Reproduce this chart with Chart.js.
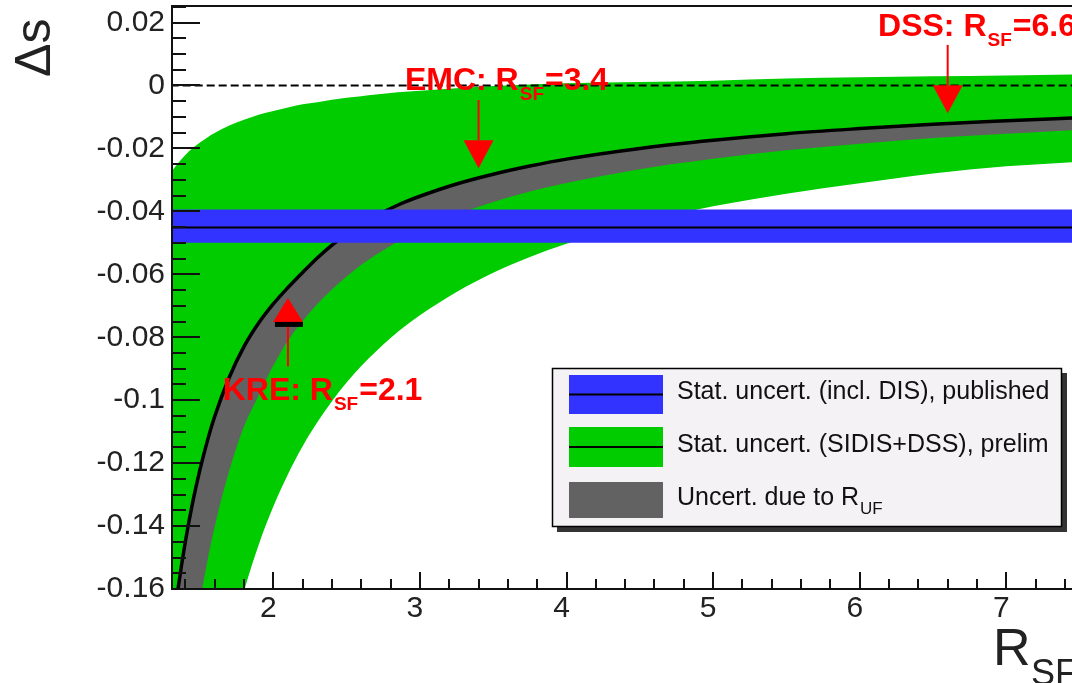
<!DOCTYPE html>
<html><head><meta charset="utf-8">
<script src="https://cdn.jsdelivr.net/npm/chart.js@4.4.1/dist/chart.umd.min.js"></script>
<style>html,body{margin:0;padding:0;background:#fff;overflow:hidden}canvas{display:block}</style>
</head><body>
<canvas id="c" width="1072" height="683"></canvas>
<script>
// ---------------- data ----------------
const rsf        = [1.30, 1.35, 1.40, 1.45, 1.50, 1.55, 1.60, 1.70, 1.80, 1.90, 2.00, 2.10, 2.20, 2.30, 2.40, 2.50, 2.60, 2.70, 2.80, 2.90, 3.00, 3.25, 3.50, 3.75, 4.00, 4.50, 5.00, 5.50, 6.00, 6.50, 7.00, 7.50];
const centralDs  = [-0.1784,-0.1600,-0.1450,-0.1325,-0.1220,-0.1130,-0.1052,-0.0927,-0.0830,-0.0755,-0.0694,-0.0642,-0.0594,-0.0548,-0.0507,-0.0472,-0.0441,-0.0414,-0.0391,-0.0370,-0.0352,-0.0313,-0.0282,-0.0256,-0.0234,-0.0200,-0.0174,-0.0153,-0.0137,-0.0123,-0.0112,-0.0102];
const rufLowDs   = [-0.2487,-0.2204,-0.1978,-0.1794,-0.1641,-0.1512,-0.1402,-0.1223,-0.1084,-0.0985,-0.0890,-0.0810,-0.0748,-0.0694,-0.0648,-0.0607,-0.0570,-0.0538,-0.0509,-0.0483,-0.0460,-0.0410,-0.0370,-0.0337,-0.0310,-0.0266,-0.0233,-0.0206,-0.0185,-0.0167,-0.0153,-0.0141];
const sidisHigh  = [-0.0277,-0.0247,-0.0221,-0.0199,-0.0181,-0.0165,-0.0151,-0.0127,-0.0109,-0.0093,-0.0081,-0.0070,-0.0060,-0.0053,-0.0045,-0.0039,-0.0034,-0.0029,-0.0024,-0.0020,-0.0017,-0.0009,-0.0002,0.0003,0.0007,0.0011,0.0015,0.0022,0.0026,0.0029,0.0032,0.0035];
const sidisLow   = [-0.3241,-0.2941,-0.2693,-0.2483,-0.2303,-0.2148,-0.2012,-0.1787,-0.1607,-0.1460,-0.1338,-0.1235,-0.1146,-0.1070,-0.1003,-0.0944,-0.0891,-0.0845,-0.0802,-0.0764,-0.0730,-0.0656,-0.0595,-0.0545,-0.0503,-0.0436,-0.0384,-0.0344,-0.0311,-0.0280,-0.0257,-0.0242];
const publishedR       = [1.30, 7.50];
const publishedCentral = [-0.0451, -0.0451];
const publishedHigh    = [-0.0394, -0.0394];
const publishedLow     = [-0.0500, -0.0500];
const zeroLine         = [0, 0];
const xTicks      = [2, 3, 4, 5, 6, 7];
const xTickLabels = ['2', '3', '4', '5', '6', '7'];
const yTicks      = [0.02, 0, -0.02, -0.04, -0.06, -0.08, -0.1, -0.12, -0.14, -0.16];
const yTickLabels = ['0.02', '0', '-0.02', '-0.04', '-0.06', '-0.08', '-0.1', '-0.12', '-0.14', '-0.16'];
const markerNames  = ['KRE', 'EMC', 'DSS'];
const markerR      = [2.1, 3.4, 6.6];
const markerLabels = ['=2.1', '=3.4', '=6.6'];
const legendLabels = ['Stat. uncert. (incl. DIS), published', 'Stat. uncert. (SIDIS+DSS), prelim', 'Uncert. due to R'];
const legendSubs   = ['', '', 'UF'];

// ---------------- styling / layout ----------------
const FONT = "'Liberation Sans', Arial, Helvetica, sans-serif";
Chart.defaults.font.family = FONT;
const BLUE = '#3333ff', GREEN = '#00cc00', GRAY = '#626262', RED = '#ff0000';
const pts = (xs, ys) => xs.map((x, i) => ({x: x, y: ys[i]}));
const base = {pointRadius: 0, borderWidth: 0, borderColor: 'transparent', clip: 0};

// annotation geometry (data coordinates), kept apart from data
const annoGeom = [
  {tail: -0.0893, tip: -0.0675, textR: 1.655, textY: -0.0999, bar: true},
  {tail: -0.0046, tip: -0.0263, textR: 2.898, textY: -0.00143, bar: false},
  {tail: 0.0129, tip: -0.0088, textR: 6.125, textY: 0.0157, bar: false}
];

const extras = {
  id: 'extras',
  afterDraw(chart) {
    const ctx = chart.ctx, a = chart.chartArea, xs = chart.scales.x, ys = chart.scales.y;
    ctx.save();
    // frame
    ctx.strokeStyle = '#111'; ctx.lineWidth = 2;
    ctx.beginPath();
    ctx.moveTo(a.right + 2, a.top); ctx.lineTo(a.left, a.top); ctx.lineTo(a.left, a.bottom); ctx.lineTo(a.right + 2, a.bottom);
    ctx.stroke();
    // ticks (inward)
    ctx.beginPath();
    for (let k = Math.ceil(xs.min / 0.2 - 1e-6); k * 0.2 <= xs.max; k++) {
      const v = k * 0.2, px = Math.round(xs.getPixelForValue(v));
      const major = Math.abs(v - Math.round(v)) < 1e-6;
      ctx.moveTo(px, a.bottom); ctx.lineTo(px, a.bottom - (major ? 17 : 10));
    }
    for (let k = Math.ceil(ys.min / 0.005 - 1e-6); k * 0.005 <= ys.max + 1e-9; k++) {
      const v = k * 0.005, py = Math.round(ys.getPixelForValue(v));
      const major = (k % 4) === 0;
      ctx.moveTo(a.left, py); ctx.lineTo(a.left + (major ? 28 : 14), py);
    }
    ctx.stroke();

    // annotations
    annoGeom.forEach((g, i) => {
      const x = xs.getPixelForValue(markerR[i]);
      const yT = ys.getPixelForValue(g.tail), yP = ys.getPixelForValue(g.tip);
      const dir = Math.sign(yP - yT), hh = g.bar ? 24 : 28, hw = 30;
      ctx.strokeStyle = RED; ctx.lineWidth = 2;
      ctx.beginPath(); ctx.moveTo(x, yT); ctx.lineTo(x, yP - dir * hh); ctx.stroke();
      ctx.fillStyle = RED;
      ctx.beginPath(); ctx.moveTo(x, yP); ctx.lineTo(x - hw / 2, yP - dir * hh); ctx.lineTo(x + hw / 2, yP - dir * hh); ctx.closePath(); ctx.fill();
      if (g.bar) { ctx.fillStyle = '#000'; ctx.fillRect(x - 13, yP - dir * hh, 28, 5); }
      let tx = xs.getPixelForValue(g.textR); const ty = ys.getPixelForValue(g.textY);
      ctx.fillStyle = RED; ctx.textAlign = 'left'; ctx.textBaseline = 'alphabetic';
      ctx.font = 'bold 32px ' + FONT;
      const main = markerNames[i] + ': R';
      ctx.fillText(main, tx, ty); tx += ctx.measureText(main).width + 1;
      ctx.font = 'bold 19px ' + FONT;
      ctx.fillText('SF', tx, ty + 10); tx += ctx.measureText('SF').width + 1;
      ctx.font = 'bold 32px ' + FONT;
      ctx.fillText(markerLabels[i], tx, ty);
    });

    // legend
    const L = {x: 552, y: 368, w: 510, h: 159};
    ctx.fillStyle = '#333'; ctx.fillRect(L.x + 5, L.y + 5, L.w, L.h);
    ctx.fillStyle = '#f5f2f5'; ctx.fillRect(L.x, L.y, L.w, L.h);
    ctx.strokeStyle = '#000'; ctx.lineWidth = 1.5; ctx.strokeRect(L.x + 0.5, L.y + 0.5, L.w - 1, L.h - 1);
    const rows = [{top: 375, h: 39, c: BLUE, line: true}, {top: 427, h: 40, c: GREEN, line: true}, {top: 482, h: 36, c: GRAY, line: false}];
    rows.forEach((r, i) => {
      ctx.fillStyle = r.c; ctx.fillRect(569, r.top, 94, r.h);
      if (r.line) { ctx.fillStyle = '#000'; ctx.fillRect(569, r.top + r.h / 2 - 1, 94, 2); }
      ctx.fillStyle = '#111'; ctx.font = '25px ' + FONT; ctx.textAlign = 'left'; ctx.textBaseline = 'middle';
      const cy = r.top + r.h / 2 - 2;
      ctx.fillText(legendLabels[i], 677, cy);
      if (legendSubs[i]) {
        const w = ctx.measureText(legendLabels[i]).width;
        ctx.font = '17px ' + FONT; ctx.fillText(legendSubs[i], 677 + w + 1, cy + 11);
      }
    });

    // axis titles
    ctx.fillStyle = '#222'; ctx.textBaseline = 'alphabetic'; ctx.textAlign = 'left';
    ctx.save(); ctx.translate(50, 77); ctx.rotate(-Math.PI / 2);
    ctx.font = '50px ' + FONT; ctx.fillText('\u0394s', 0, 0); ctx.restore();
    ctx.font = '52px ' + FONT; ctx.fillText('R', 993, 665);
    ctx.font = '36px ' + FONT; ctx.fillText('SF', 1031, 685);
    ctx.restore();
  }
};

new Chart(document.getElementById('c'), {
  type: 'line',
  data: {
    datasets: [
      Object.assign({}, base, {label: 'published central', data: pts(publishedR, publishedCentral), borderColor: '#000', borderWidth: 2, fill: false}),
      Object.assign({}, base, {label: 'published high', data: pts(publishedR, publishedHigh), backgroundColor: BLUE, fill: '+1'}),
      Object.assign({}, base, {label: 'published low', data: pts(publishedR, publishedLow), fill: false}),
      Object.assign({}, base, {label: 'zero', data: pts(publishedR, zeroLine), borderColor: '#000', borderWidth: 2, borderDash: [8, 4], fill: false}),
      Object.assign({}, base, {label: 'central', data: pts(rsf, centralDs), borderColor: '#000', borderWidth: 3.5, backgroundColor: GRAY, fill: '+1', cubicInterpolationMode: 'monotone'}),
      Object.assign({}, base, {label: 'R_UF low', data: pts(rsf, rufLowDs), fill: false, cubicInterpolationMode: 'monotone'}),
      Object.assign({}, base, {label: 'SIDIS high', data: pts(rsf, sidisHigh), backgroundColor: GREEN, fill: '+1', cubicInterpolationMode: 'monotone'}),
      Object.assign({}, base, {label: 'SIDIS low', data: pts(rsf, sidisLow), fill: false, cubicInterpolationMode: 'monotone'})
    ]
  },
  options: {
    responsive: false, animation: false, devicePixelRatio: 1,
    layout: {padding: {top: 6, right: 0, left: 0, bottom: 0}},
    plugins: {legend: {display: false}, tooltip: {enabled: false}},
    scales: {
      x: {
        type: 'linear', min: 1.309, max: 7.448,
        grid: {display: false, drawTicks: false}, border: {display: false},
        afterBuildTicks: s => { s.ticks = xTicks.map(v => ({value: v})); },
        afterFit: s => { s.height = 94; s.paddingLeft = 0; s.paddingRight = 0; s.paddingTop = 0; s.paddingBottom = 0; },
        ticks: {autoSkip: false, maxRotation: 0, minRotation: 0, padding: 2, labelOffset: -5,
          font: {family: FONT, size: 30}, color: '#222', callback: (v, i) => xTickLabels[i]}
      },
      y: {
        type: 'linear', min: -0.16, max: 0.02526,
        grid: {display: false, drawTicks: false}, border: {display: false},
        afterBuildTicks: s => { s.ticks = yTicks.map(v => ({value: v})); },
        afterFit: s => { s.width = 172; s.paddingTop = 0; s.paddingBottom = 0; s.paddingLeft = 0; s.paddingRight = 0; },
        ticks: {autoSkip: false, padding: 7, font: {family: FONT, size: 30}, color: '#222', callback: (v, i) => yTickLabels[i]}
      }
    }
  },
  plugins: [extras]
});
</script>
</body></html>
